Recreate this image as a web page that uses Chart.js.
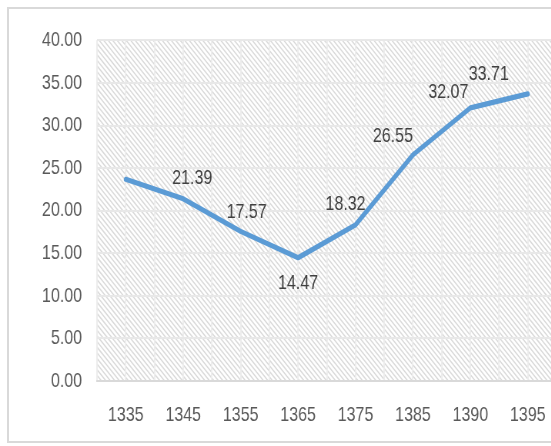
<!DOCTYPE html>
<html>
<head>
<meta charset="utf-8">
<script src="https://cdn.jsdelivr.net/npm/chart.js@4/dist/chart.umd.min.js"></script>
<style>
  html, body { margin: 0; padding: 0; background: #fff; overflow: hidden; width: 551px; height: 446px; }
  #frame { position: absolute; left: 7px; top: 7px; width: 620px; height: 432px; border: 2px solid #d9d9d9; }
  /* the chart is laid out at 343px tall and shown stretched to the full 446px height */
  #c { position: absolute; left: 0; top: 0; width: 585px !important; height: 446px !important; }
</style>
</head>
<body>
<div id="frame"></div>
<canvas id="c" width="585" height="343"></canvas>
<script>
// Years on the horizontal axis
const years = ['1335', '1345', '1355', '1365', '1375', '1385', '1390', '1395'];
// Series values (first year carries no printed label)
const values = [23.68, 21.39, 17.57, 14.47, 18.32, 26.55, 32.07, 33.71];
const labelled = [false, true, true, true, true, true, true, true];
// Value-axis ticks
const yTicks = [0, 5, 10, 15, 20, 25, 30, 35, 40];

// Where each value label sits relative to its point (layout px)
const labelShift = [null, [9, -17], [6, -16], [0, 18.5], [-10, -17], [-20, -15.5], [-22, -13], [-39, -16]];

const STRETCH = 446 / 343;
const FONT = "'Liberation Sans', Arial, sans-serif";
const TEXT = '#595959';

// Diagonal hatch filling the plot area
const hatchPlugin = {
  id: 'hatch',
  beforeDraw(chart) {
    const { ctx, chartArea: a } = chart;
    const h = a.bottom - a.top;
    const run = h * STRETCH * 0.8;
    ctx.save();
    ctx.fillStyle = '#ffffff';
    ctx.fillRect(a.left, a.top, a.right - a.left, h);
    ctx.beginPath();
    ctx.rect(a.left, a.top, a.right - a.left, h);
    ctx.clip();
    ctx.strokeStyle = '#dadada';
    ctx.lineWidth = 1.2;
    ctx.beginPath();
    for (let x = a.left - run; x < a.right + 5; x += 4.5) {
      ctx.moveTo(x, a.top);
      ctx.lineTo(x + run, a.bottom);
    }
    ctx.stroke();
    ctx.restore();
  }
};

const valueLabels = {
  id: 'valueLabels',
  afterDatasetsDraw(chart) {
    const { ctx } = chart;
    const meta = chart.getDatasetMeta(0);
    ctx.save();
    ctx.font = '16px ' + FONT;
    ctx.fillStyle = '#404040';
    ctx.textAlign = 'center';
    ctx.textBaseline = 'alphabetic';
    meta.data.forEach((pt, i) => {
      if (!labelled[i]) return;
      const s = labelShift[i];
      ctx.fillText(values[i].toFixed(2), pt.x + s[0], pt.y + s[1] + 5.7);
    });
    ctx.restore();
  }
};

new Chart(document.getElementById('c'), {
  type: 'line',
  data: {
    labels: years,
    datasets: [{
      data: values,
      borderColor: '#5b9bd5',
      borderWidth: 4,
      borderJoinStyle: 'round',
      borderCapStyle: 'round',
      tension: 0,
      pointRadius: 0,
      fill: false,
      xAxisID: 'x',
      yAxisID: 'y'
    }]
  },
  options: {
    responsive: false,
    maintainAspectRatio: false,
    devicePixelRatio: STRETCH,
    animation: false,
    events: [],
    layout: { padding: { top: 31, left: 0, right: 29, bottom: 0 } },
    plugins: { legend: { display: false }, tooltip: { enabled: false } },
    scales: {
      x: {
        type: 'category',
        position: 'bottom',
        offset: true,
        grid: { offset: false, color: '#ededed', lineWidth: 1.5, drawTicks: false },
        border: { display: true, color: '#d9d9d9', width: 1.6 },
        ticks: { color: TEXT, font: { family: FONT, size: 16 }, padding: 17, maxRotation: 0, autoSkip: false },
        afterFit(s) { s.height = 50; }
      },
      xb: {
        type: 'category',
        labels: years,
        position: 'bottom',
        offset: true,
        grid: { offset: true, color: '#ededed', lineWidth: 1.5, drawTicks: false },
        border: { display: false },
        ticks: { display: false },
        afterFit(s) { s.height = 0; }
      },
      y: {
        min: 0,
        max: 40,
        afterBuildTicks(s) { s.ticks = yTicks.map(v => ({ value: v })); },
        grid: { color: '#e8e8e8', lineWidth: 1.5, drawTicks: false },
        border: { display: false },
        ticks: {
          color: TEXT,
          font: { family: FONT, size: 16 },
          padding: 15,
          callback: v => Number(v).toFixed(2)
        },
        afterFit(s) { s.width = 97; }
      }
    }
  },
  plugins: [hatchPlugin, valueLabels]
});
</script>
</body>
</html>
